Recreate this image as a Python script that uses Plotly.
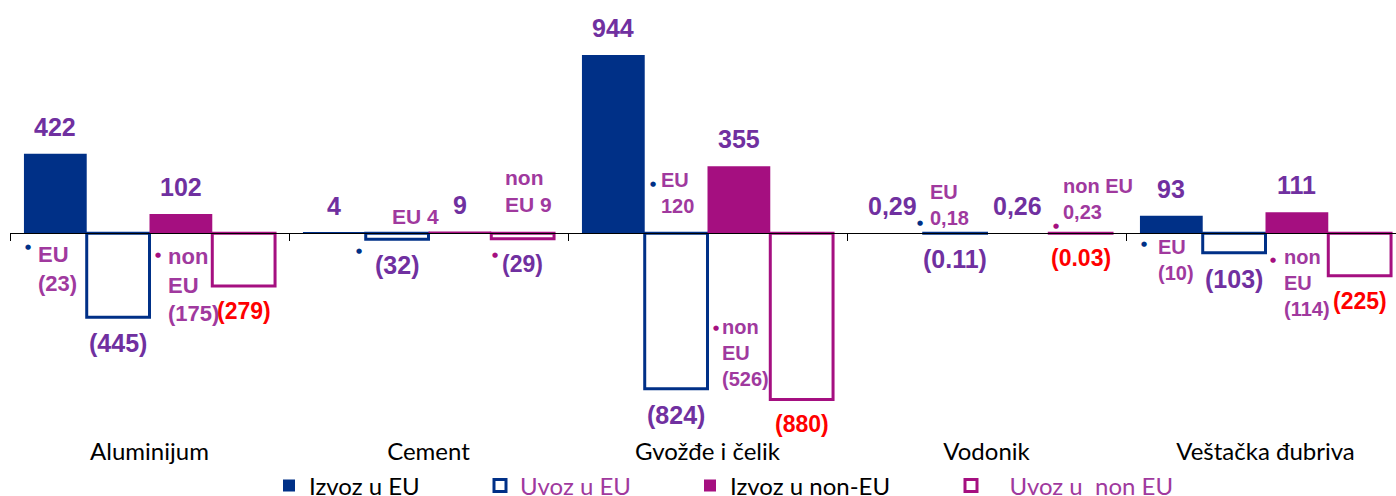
import plotly.graph_objects as go

# ---------------- data ----------------
categories = ["Aluminijum", "Cement", "Gvožđe i čelik", "Vodonik", "Veštačka đubriva"]
izvoz_eu = [422, 4, 944, 0.29, 93]
uvoz_eu = [-445, -32, -824, -0.11, -103]
izvoz_non_eu = [102, 9, 355, 0.26, 111]
uvoz_non_eu = [-279, -29, -880, -0.03, -225]

izvoz_eu_labels = ["422", "4", "944", "0,29", "93"]
uvoz_eu_labels = ["(445)", "(32)", "(824)", "(0.11)", "(103)"]
izvoz_non_eu_labels = ["102", "9", "355", "0,26", "111"]
uvoz_non_eu_labels = ["(279)", "(29)", "(880)", "(0.03)", "(225)"]

eu_sub_labels = ["EU<br>(23)", "EU 4", "EU<br>120", "EU<br>0,18", "EU<br>(10)"]
non_eu_sub_labels = ["non<br>EU<br>(175)", "non<br>EU 9", "non<br>EU<br>(526)",
                     "non EU<br>0,23", "non<br>EU<br>(114)"]

series_names = ["Izvoz u EU", "Uvoz u EU", "Izvoz u non-EU", "Uvoz u  non EU"]

# ---------------- styles / layout ----------------
BLUE = "#003087"
MAGENTA = "#A50F80"
PURPLE = "#7030A0"
SUBCOL = "#A0399E"
RED = "#FF0000"

W, H = 1396, 496
ML, MR, MT, MB = 10, 0, 0, 56
PLOT_W = W - ML - MR
PLOT_H = H - MT - MB
CAT_PX = 279.0
ZERO_PX = 233.3          # zero line, px from plot top
PX_PER_UNIT = 0.1888
BARGAP = 0.1

y_max = ZERO_PX / PX_PER_UNIT
y_min = -(PLOT_H - ZERO_PX) / PX_PER_UNIT
x_min = -0.5
x_max = x_min + PLOT_W / CAT_PX

bar_w = (1 - BARGAP) / 4
offsets = [(k - 1.5) * bar_w for k in range(4)]

uvoz_non_eu_colors = [RED, PURPLE, RED, RED, RED]

# sub-label placement (px offsets from category centre / zero line, +up)
eu_sub_pos = [(-114, -36, 22), (-39, 17, 21), (-49, 40, 20), (-59, 28, 20), (-110, -27, 20)]
eu_dot_pos = [(-122, -14), (-70, -18), (-55, 49), (-67, 10), (-122, -11)]
non_sub_pos = [(16, -52, 22), (74, 42, 21), (12, -120, 20), (74, 34, 20), (16, -50, 20)]
non_dot_pos = [(8, -22), (66, -22), (8, -95), (69, 7), (7, -27)]

FONT_B = "Liberation Sans, Arial, sans-serif"
FONT_C = "Lato, Open Sans, sans-serif"

fig = go.Figure()
values = [izvoz_eu, uvoz_eu, izvoz_non_eu, uvoz_non_eu]
legend_ids = ["legend", "legend2", "legend3", "legend4"]
legend_names = [
    series_names[0],
    "<span style='color:%s'>%s</span>" % (SUBCOL, series_names[1]),
    series_names[2],
    "<span style='color:%s'>\u00a0\u00a0\u00a0%s</span>" % (SUBCOL, series_names[3].replace("  ", "\u00a0\u00a0")),
]
fills = [BLUE, "white", MAGENTA, "white"]
lines = [BLUE, BLUE, MAGENTA, MAGENTA]
lws = [0, 3, 0, 3]
for k in range(4):
    fig.add_trace(go.Bar(
        x=categories, y=values[k], name=legend_names[k], legend=legend_ids[k],
        marker=dict(color=fills[k], line=dict(color=lines[k], width=lws[k])),
        hoverinfo="skip",
    ))

annotations = []

def main_label(i, k, val, text, color, size):
    up = val >= 0
    annotations.append(dict(
        x=i + offsets[k], y=val, xref="x", yref="y", text="<b>%s</b>" % text,
        showarrow=False, xanchor="center", yanchor="bottom" if up else "top",
        yshift=11 if up else -10, font=dict(family=FONT_B, size=size, color=color),
    ))

for i in range(len(categories)):
    main_label(i, 0, izvoz_eu[i], izvoz_eu_labels[i], PURPLE, 25)
    main_label(i, 1, uvoz_eu[i], uvoz_eu_labels[i], PURPLE, 25)
    main_label(i, 2, izvoz_non_eu[i], izvoz_non_eu_labels[i], PURPLE, 25)
    main_label(i, 3, uvoz_non_eu[i], uvoz_non_eu_labels[i], uvoz_non_eu_colors[i], 23)

    for txt, (dx, dy, sz), (ddx, ddy), dcol in [
        (eu_sub_labels[i], eu_sub_pos[i], eu_dot_pos[i], BLUE),
        (non_eu_sub_labels[i], non_sub_pos[i], non_dot_pos[i], MAGENTA),
    ]:
        annotations.append(dict(
            x=i, y=0, xref="x", yref="y", text="<b>%s</b>" % txt, showarrow=False,
            xanchor="left", yanchor="middle", align="left", xshift=dx, yshift=dy,
            font=dict(family=FONT_B, size=sz, color=SUBCOL),
        ))
        annotations.append(dict(
            x=i, y=0, xref="x", yref="y", text="●", showarrow=False,
            xanchor="center", yanchor="middle", xshift=ddx, yshift=ddy,
            font=dict(family="DejaVu Sans", size=7, color=dcol),
        ))

legend_x_px = [269, 480, 690, 951]
legend_y_px = 486
legend_layouts = {}
for k, lid in enumerate(legend_ids):
    legend_layouts[lid] = dict(
        x=legend_x_px[k] / W, y=1 - legend_y_px / H, xref="container", yref="container",
        xanchor="left", yanchor="middle", orientation="h", bgcolor="rgba(0,0,0,0)",
        font=dict(family=FONT_C, size=24, color="black"), borderwidth=0,
    )

zero_frac = (0 - y_min) / (y_max - y_min)

fig.update_layout(
    width=W, height=H,
    margin=dict(l=ML, r=MR, t=MT, b=MB, autoexpand=False),
    paper_bgcolor="white", plot_bgcolor="white",
    barmode="group", bargap=BARGAP, bargroupgap=0,
    showlegend=True,
    annotations=annotations,
    xaxis=dict(
        type="category", range=[x_min, x_max], anchor="free", position=zero_frac,
        showline=True, linecolor="black", linewidth=1,
        ticks="outside", tickson="boundaries", ticklen=7, tickcolor="black",
        showgrid=False, zeroline=False, automargin=False,
        tickfont=dict(family=FONT_C, size=24, color="black"),
        ticklabelstandoff=197,
    ),
    yaxis=dict(range=[y_min, y_max], visible=False, showgrid=False, zeroline=False,
               automargin=False),
    **legend_layouts,
)

fig.write_html(
    "out.html",
    config={"displayModeBar": False},
    post_script="document.body.style.margin='0px';document.body.style.overflow='hidden';",
)
